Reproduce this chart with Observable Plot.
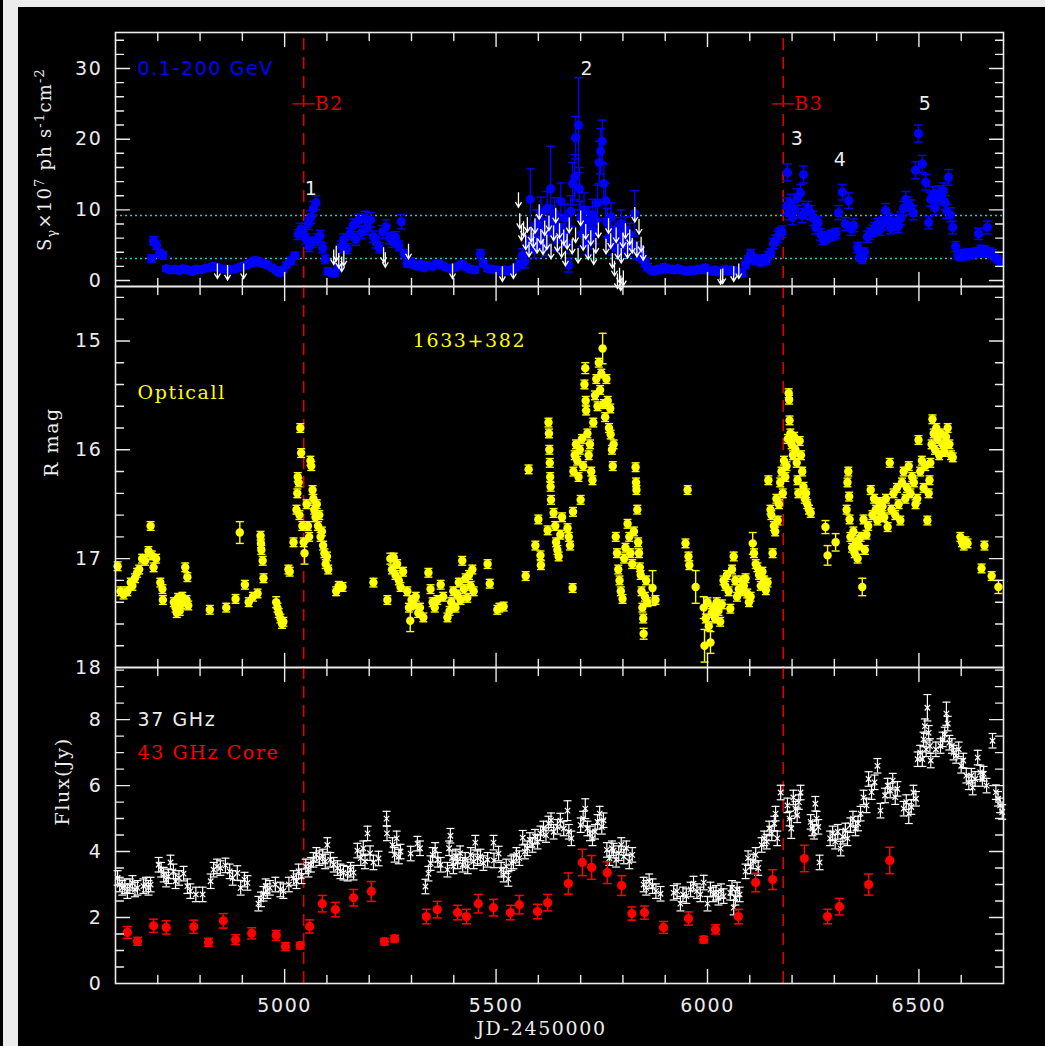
<!DOCTYPE html>
<html>
<head>
<meta charset="utf-8">
<script src="https://cdn.jsdelivr.net/npm/d3@7"></script>
<script src="https://cdn.jsdelivr.net/npm/@observablehq/plot@0.6"></script>
<style>
  html, body { margin: 0; padding: 0; background: #000; }
  #page { position: relative; width: 1045px; height: 1046px; overflow: hidden; background: #000; }
  .edge-left { position: absolute; left: 3px; top: 0; width: 15px; height: 1046px; background: #ececec; }
  .edge-top { position: absolute; left: 3px; top: 0; width: 1042px; height: 7px; background: #ececec; }
  svg.panel { position: absolute; left: 0; }
</style>
</head>
<body>
<div id="page"><div class="edge-left"></div><div class="edge-top"></div></div>
<script>
// ---- time axis (JD - 2450000) ----
const xDomain = [4600, 6700];
const xMajorTicks = [5000, 5500, 6000, 6500];

// ---- ejection epochs of superluminal knots ----
const knotJD = [5045, 6179];
const knotNames = ["B2", "B3"];

// ---- gamma-ray reference levels (dotted) ----
const gammaLevels = [3.1, 9.2];

// ---- Fermi LAT 0.1-200 GeV detections: [JD, flux (1e-7 ph/s/cm2), error] ----
const gammaDetections = [
  [4685,3.1,0.5],[4690,5.6,0.6],[4697,5.0,0.6],[4705,3.9,0.5],[4712,3.6,0.5],[4720,1.7,0.4],[4730,1.5,0.4],
  [4740,1.6,0.4],[4750,1.4,0.4],[4760,1.7,0.4],[4770,1.5,0.4],[4780,1.3,0.4],[4790,1.6,0.4],[4800,1.5,0.4],
  [4810,1.7,0.4],[4820,1.8,0.4],[4830,2.0,0.4],[4840,1.9,0.4],[4850,1.7,0.4],[4860,1.6,0.4],[4870,1.5,0.4],
  [4880,1.6,0.4],[4890,1.8,0.4],[4900,2.0,0.4],[4910,2.2,0.4],[4920,2.5,0.5],[4930,2.8,0.5],[4940,2.6,0.5],
  [4950,2.4,0.5],[4960,2.2,0.4],[4970,1.8,0.4],[4980,1.4,0.4],[4988,1.1,0.4],[4996,1.5,0.4],[5005,2.2,0.4],
  [5015,2.8,0.5],[5024,3.5,0.5],[5032,6.5,0.7],[5038,7.3,0.8],[5044,6.8,0.7],[5050,5.9,0.7],[5056,8.0,0.8],
  [5062,9.0,0.9],[5068,10.2,1.0],[5074,11.0,1.0],[5058,4.8,0.7],[5066,5.4,0.7],[5078,5.8,0.8],[5084,6.3,0.8],
  [5090,4.6,0.7],[5096,3.0,0.6],[5102,1.3,0.5],[5110,1.1,0.4],[5118,1.0,0.4],[5126,1.8,0.5],[5134,4.8,0.8],
  [5140,5.8,0.8],[5148,4.5,0.7],[5155,6.6,0.8],[5162,7.8,0.9],[5168,5.8,0.8],[5175,8.5,0.9],[5182,6.8,0.8],
  [5190,8.8,1.0],[5196,7.4,0.9],[5203,8.6,1.0],[5210,6.2,0.8],[5216,5.4,0.8],[5224,4.6,0.7],[5232,6.9,0.9],
  [5240,7.6,1.0],[5248,6.0,0.8],[5255,5.5,0.8],[5262,6.1,0.8],[5270,4.9,0.7],[5276,8.3,1.0],[5283,3.8,0.6],
  [5290,2.4,0.5],[5298,2.7,0.5],[5306,2.2,0.4],[5314,2.0,0.4],[5322,2.3,0.4],[5330,1.8,0.4],[5340,2.1,0.4],
  [5350,2.0,0.4],[5360,2.4,0.4],[5370,2.2,0.4],[5380,1.9,0.4],[5390,1.7,0.4],[5400,1.8,0.4],[5410,2.0,0.4],
  [5420,2.3,0.4],[5430,1.9,0.4],[5440,1.6,0.4],[5450,1.5,0.4],[5463,3.8,0.6],[5470,2.4,0.4],[5480,1.7,0.4],
  [5490,1.6,0.4],[5500,1.5,0.4],[5510,1.4,0.4],[5520,1.5,0.4],[5530,1.3,0.4],[5540,1.6,0.4],[5548,1.9,0.5],
  [5556,2.3,0.6],[5562,3.6,0.9],[5568,2.6,0.8],[5574,5.0,1.2],[5581,11.5,4.3],[5586,6.0,1.5],[5591,4.4,1.2],
  [5596,8.0,2.0],[5601,5.6,1.4],[5606,9.6,2.2],[5611,7.0,1.8],[5616,4.8,1.3],[5621,10.2,2.4],[5625,6.8,1.6],
  [5629,13.0,6.0],[5633,8.6,2.0],[5638,9.5,2.2],[5643,5.8,1.5],[5648,7.6,1.8],[5653,11.2,2.6],[5658,6.4,1.6],
  [5663,8.8,2.0],[5668,5.2,1.4],[5672,2.2,1.0],[5677,9.8,2.2],[5681,13.7,3.0],[5688,20.2,3.0],[5686,14.6,3.2],
  [5695,22.0,6.7],[5697,13.0,3.0],[5700,9.0,2.2],[5704,6.6,1.8],[5708,10.0,2.4],[5712,7.6,1.8],[5716,5.2,1.5],
  [5720,8.4,2.0],[5724,6.0,1.6],[5728,9.3,2.2],[5732,7.0,1.8],[5736,8.5,2.0],[5740,11.0,2.5],[5744,16.7,3.0],
  [5747,18.3,3.2],[5751,19.7,3.0],[5755,13.7,2.8],[5759,11.3,2.5],[5763,8.2,2.0],[5767,6.0,1.6],[5772,9.0,2.0],
  [5776,5.0,1.4],[5781,7.1,1.8],[5786,4.6,1.3],[5791,6.4,1.6],[5796,8.0,2.0],[5801,5.5,1.5],[5806,7.2,1.8],
  [5811,4.8,1.4],[5816,6.5,1.6],[5822,5.2,1.4],[5828,9.5,3.2],[5834,4.3,1.2],[5840,3.8,1.0],[5846,3.3,0.8],
  [5852,2.6,0.6],[5858,1.9,0.5],[5866,1.5,0.4],[5874,1.3,0.4],[5882,1.6,0.4],[5890,1.5,0.4],[5898,1.9,0.4],
  [5906,1.7,0.4],[5914,1.6,0.4],[5922,1.5,0.4],[5930,1.7,0.4],[5938,1.5,0.4],[5946,1.4,0.4],[5954,1.3,0.4],
  [5962,1.5,0.4],[5970,1.4,0.4],[5978,1.6,0.4],[5986,1.5,0.4],[5994,1.8,0.4],[6002,1.4,0.4],[6010,1.3,0.4],
  [6018,1.5,0.4],[6026,1.2,0.4],[6034,1.4,0.4],[6042,1.6,0.4],[6050,1.3,0.4],[6058,1.5,0.4],[6066,1.4,0.4],
  [6074,1.2,0.4],[6082,1.0,0.4],[6090,2.2,0.5],[6096,3.0,0.5],[6102,3.8,0.6],[6108,3.2,0.5],[6114,2.8,0.5],
  [6120,3.0,0.5],[6126,2.6,0.5],[6132,3.1,0.5],[6138,2.8,0.5],[6144,3.5,0.6],[6150,3.9,0.6],[6156,5.2,0.7],
  [6161,5.7,0.7],[6166,6.2,0.8],[6171,6.6,0.8],[6176,6.9,0.8],[6187,10.5,1.2],[6189,15.3,1.2],[6192,9.6,1.0],
  [6196,11.0,1.2],[6201,8.9,1.0],[6206,10.0,1.1],[6213,11.8,1.2],[6220,12.4,1.2],[6227,15.0,1.2],[6224,9.2,1.0],
  [6232,9.8,1.0],[6238,10.2,1.0],[6244,9.6,1.0],[6250,8.8,1.0],[6256,7.5,0.9],[6262,8.2,0.9],[6268,6.5,0.8],
  [6274,5.8,0.7],[6280,6.0,0.7],[6286,6.2,0.7],[6292,6.4,0.7],[6298,6.5,0.7],[6304,6.7,0.7],[6310,9.6,1.0],
  [6319,12.5,1.1],[6326,8.0,0.9],[6334,11.3,1.1],[6340,7.3,0.9],[6346,7.8,0.9],[6355,4.7,0.7],[6360,3.3,0.6],
  [6366,3.0,0.6],[6371,4.0,0.6],[6378,6.2,0.8],[6384,6.6,0.8],[6390,7.0,0.8],[6396,7.4,0.8],[6402,7.9,0.9],
  [6408,7.2,0.8],[6414,8.1,0.9],[6421,9.9,1.0],[6427,8.6,0.9],[6433,7.4,0.8],[6439,8.4,0.9],[6445,8.0,0.9],
  [6451,7.6,0.8],[6457,8.8,0.9],[6464,10.2,1.0],[6469,11.5,1.1],[6475,10.8,1.0],[6481,10.4,1.0],[6487,9.6,1.0],
  [6492,15.6,1.2],[6499,20.8,1.2],[6508,16.5,1.2],[6516,13.9,1.1],[6523,8.2,0.9],[6528,11.5,1.0],[6533,12.2,1.1],
  [6538,10.3,1.0],[6543,11.8,1.1],[6548,12.3,1.1],[6553,12.0,1.1],[6558,12.7,1.1],[6562,11.0,1.0],[6570,14.6,1.1],
  [6566,9.8,1.0],[6575,9.3,1.0],[6580,7.5,0.9],[6587,4.8,0.7],[6592,3.6,0.6],[6598,3.4,0.6],[6604,3.8,0.6],
  [6610,3.5,0.6],[6616,3.9,0.6],[6622,3.6,0.6],[6628,3.8,0.6],[6634,4.0,0.6],[6641,6.6,0.8],[6646,4.4,0.6],
  [6652,3.9,0.6],[6657,4.3,0.6],[6662,7.5,0.9],[6668,4.0,0.6],[6674,3.8,0.6],[6680,3.4,0.6],[6686,3.0,0.5],
  [6692,2.5,0.5]
];

// ---- gamma-ray upper limits: [JD, flux limit] ----
const gammaUpperLimits = [
  [4841,2.4],[4865,2.2],[4903,2.4],[5116,4.4],[5122,4.9],[5128,3.9],[5135,3.4],[5140,4.2],[5234,4.7],
  [5238,4.0],[5293,5.2],[5397,2.4],[5515,2.0],[5541,2.4],
  [5553,12.5],[5556,9.5],[5560,7.8],[5565,8.4],[5570,6.5],[5574,9.0],[5578,5.5],[5583,7.6],[5588,6.8],
  [5592,8.8],[5597,6.0],[5602,10.8],[5606,7.3],[5611,5.8],[5615,8.5],[5620,6.5],[5625,9.2],[5630,5.2],
  [5636,7.8],[5641,10.3],[5645,6.2],[5650,8.1],[5655,5.4],[5660,7.2],[5664,4.2],[5668,6.6],[5673,8.9],
  [5680,5.9],[5688,7.5],[5694,4.6],[5700,9.9],[5706,6.4],[5712,8.0],[5718,5.1],[5724,7.1],[5731,4.4],
  [5736,6.0],[5742,8.2],[5760,5.9],[5766,8.8],[5771,6.7],[5775,3.9],[5780,2.8],[5784,7.5],[5788,5.2],
  [5792,1.8],[5796,4.6],[5800,6.8],[5806,8.1],[5811,5.3],[5816,7.2],[5822,6.0],[5828,10.4],[5833,5.5],
  [5838,8.7],[5843,6.2],[5848,5.0],[5787,1.0],[5795,0.7],[5801,1.4],
  [6031,1.6],[6036,1.7],[6062,2.0],[6074,2.4]
];

// ---- flare numbering: [label, JD, flux] ----
const flareLabels = [["1",5064,12.9],["2",5716,30.0],["3",6213,20.1],["4",6315,17.0],["5",6516,25.0]];

// ---- optical R-band photometry: [JD, R mag, error] ----
const opticalR = [
  [4605,17.07],[4612,17.30],[4619,17.33],[4628,17.30],[4636,17.22],[4640,17.25],[4646,17.18],[4651,17.13],
  [4656,17.10],[4663,17.00],[4670,17.02],[4678,16.93],[4683,16.70],[4686,16.97],[4690,17.08],[4696,17.00],
  [4706,17.22],[4711,17.28],[4712,17.38],[4738,17.40],[4742,17.45],[4745,17.50],[4748,17.36],[4752,17.48],
  [4755,17.42],[4758,17.35],[4765,17.08],[4770,17.17],[4768,17.38],[4772,17.43],[4823,17.47],[4862,17.45],
  [4884,17.37],[4894,16.76,0.1],[4906,17.24],[4915,17.40],[4925,17.35],[4936,17.32],[4943,16.79],[4944,16.86],
  [4945,16.92],[4948,17.02],[4950,17.18],[4980,17.40,0.05],[4983,17.45],[4986,17.50],[4990,17.55],[4994,17.60],
  [4997,17.58],[5009,17.10],[5012,17.12],[5021,16.85],[5028,16.55],[5030,16.40],[5031,16.25],[5033,16.30],
  [5035,16.60],[5037,15.80],[5039,16.03],[5042,16.70],[5045,16.85],[5047,16.95,0.1],[5052,16.50],[5055,16.70],
  [5058,16.80],[5061,16.10],[5063,16.15],[5066,16.37],[5068,16.45],[5070,16.55],[5073,16.62],[5076,16.50],
  [5079,16.70],[5082,16.60],[5085,16.80],[5088,16.75],[5091,16.88],[5094,16.95],[5097,17.05],[5100,16.98],
  [5103,17.10],[5122,17.30],[5128,17.25],[5137,17.26],[5210,17.22],[5243,17.38],[5250,17.00,0.05],[5254,17.10],
  [5258,16.99],[5262,17.15],[5266,17.05],[5270,17.20],[5274,17.26],[5280,17.12],[5290,17.30],[5294,17.45],
  [5297,17.57,0.1],[5300,17.38],[5305,17.42],[5310,17.35],[5316,17.50],[5320,17.45],[5328,17.54],[5340,17.13],
  [5345,17.28],[5350,17.40],[5355,17.45],[5361,17.38],[5369,17.24],[5375,17.35],[5385,17.54],[5390,17.48],
  [5394,17.40],[5399,17.30],[5404,17.45],[5408,17.33],[5412,17.22],[5416,17.38],[5420,17.02],[5424,17.28],
  [5428,17.18],[5432,17.36],[5436,17.15],[5440,17.25],[5444,17.10],[5447,17.30],[5480,17.05],[5485,17.23],
  [5503,17.47],[5508,17.45],[5518,17.44],[5570,17.16],[5577,16.18],[5593,16.88],[5600,16.64],[5605,16.97],
  [5606,17.06],[5622,16.74],[5624,15.75],[5625,15.85],[5626,16.00],[5627,16.12],[5628,16.25],[5629,16.34],
  [5630,16.46],[5636,16.58],[5640,16.70],[5642,16.85],[5645,16.92],[5648,16.98],[5652,16.78],[5656,16.62],
  [5669,16.72],[5672,16.80],[5675,16.88],[5681,17.27],[5682,16.57],[5683,16.20],[5686,16.05],[5689,15.95],
  [5692,16.10],[5695,16.25],[5698,16.00],[5700,16.46],[5703,15.90],[5706,16.15],[5709,15.40],[5711,15.25,0.05],
  [5712,15.55],[5713,15.64],[5716,15.85],[5719,16.05],[5722,15.95],[5725,16.20],[5728,16.28],[5730,15.75],
  [5734,15.50],[5737,15.35],[5740,15.60],[5743,15.20],[5746,15.45],[5749,15.30],[5752,15.07,0.14],[5755,15.58],
  [5758,15.70],[5761,15.35],[5764,15.55],[5767,15.80],[5770,15.62],[5771,15.86],[5774,16.00],[5776,16.15],
  [5778,15.95],[5783,16.80],[5786,16.95],[5789,17.10],[5792,17.20],[5795,17.30],[5799,17.37],[5803,17.00],
  [5806,16.90],[5811,16.68],[5815,16.80],[5818,16.95],[5822,17.05],[5826,16.75],[5830,16.16],[5831,16.30],
  [5832,16.37],[5834,16.55],[5836,16.85],[5838,16.95],[5840,17.08],[5842,17.15],[5844,17.30],[5846,17.45],
  [5848,17.55],[5849,17.69,0.05],[5852,17.35],[5855,17.20],[5858,17.40],[5870,17.27,0.16],[5877,17.38],
  [5948,16.86],[5953,16.37],[5955,16.98],[5957,17.06],[5972,17.26,0.15],[5991,17.45,0.1],[5993,17.80,0.15],
  [5996,17.55],[6000,17.40],[6003,17.62],[6007,17.77,0.1],[6010,17.50],[6014,17.45],[6018,17.55],[6022,17.40],
  [6026,17.48],[6030,17.58],[6034,17.42],[6038,17.20],[6042,17.25],[6046,17.15],[6050,17.30],[6054,17.46],
  [6058,17.10],[6062,16.98],[6066,17.20],[6070,17.35],[6074,17.28],[6078,17.30],[6082,17.20],[6086,17.25],
  [6090,17.18],[6094,17.32],[6098,17.40],[6102,17.35],[6107,16.86,0.1],[6110,16.95],[6114,17.05],[6118,17.08],
  [6122,17.15],[6126,17.25],[6130,17.12],[6134,17.20],[6138,17.29],[6142,17.22],[6144,16.28],[6149,16.55],
  [6151,16.60],[6154,16.95],[6157,16.70],[6160,16.75],[6163,16.45],[6166,16.65],[6169,16.50],[6172,16.30],
  [6175,16.20],[6178,16.40],[6181,16.10],[6184,16.25],[6187,16.15],[6190,15.90],[6192,15.48],[6193,15.54],
  [6194,15.73],[6196,15.85],[6199,15.95],[6202,16.05],[6205,15.88],[6208,16.00],[6211,16.12],[6213,16.28],
  [6215,16.40],[6218,15.92],[6221,16.05],[6224,16.20],[6227,16.34],[6230,16.45],[6233,16.40],[6236,16.50],
  [6240,16.55],[6244,16.58],[6279,16.71,0.06],[6284,16.97,0.09],[6303,16.85,0.08],[6329,16.55],[6331,16.30],
  [6333,16.20],[6335,16.43],[6336,16.64],[6338,16.80],[6342,16.90],[6345,16.75],[6348,16.95],[6352,16.85],
  [6355,17.00],[6358,16.88],[6362,16.80],[6366,17.26,0.08],[6369,16.64],[6372,16.92],[6376,16.78],[6380,16.70],
  [6386,16.37],[6390,16.60],[6394,16.45],[6398,16.55],[6402,16.65],[6406,16.48],[6410,16.58],[6414,16.52],
  [6418,16.62],[6422,16.45],[6426,16.71],[6431,16.12],[6435,16.55],[6440,16.40],[6444,16.60],[6448,16.35],
  [6452,16.50],[6456,16.65],[6460,16.30],[6464,16.20],[6468,16.45],[6472,16.35],[6476,16.15],[6480,16.40],
  [6484,16.25],[6488,16.30],[6492,16.50],[6496,16.45],[6499,15.91],[6503,16.20],[6507,16.10],[6511,16.35],
  [6515,16.15],[6520,16.65],[6523,16.40],[6525,16.28],[6527,16.12],[6530,15.95],[6532,15.72],[6535,15.85],
  [6538,16.00],[6541,15.80],[6544,15.90],[6548,16.05],[6552,15.85],[6556,15.95],[6560,16.02],[6564,15.88],
  [6568,15.80],[6572,15.95],[6576,16.05],[6580,16.07],[6598,16.80],[6602,16.85],[6606,16.88],[6610,16.84],
  [6615,16.86],[6648,17.09],[6655,16.88],[6672,17.16],[6688,17.26,0.06]
];

// ---- 37 GHz single-dish flux density: [JD, Jy, error] ----
const flux37 = [
  [4605,3.20],[4610,3.00],[4616,2.90],[4622,2.95],[4628,2.80],[4634,2.95],[4640,3.05],[4646,2.85],[4652,2.90],
  [4666,2.95],[4672,3.00],[4678,2.90],[4683,3.00],[4702,3.60],[4708,3.45],[4714,3.30],[4720,3.15],[4725,3.25],
  [4730,3.67],[4737,3.40],[4742,3.10],[4750,3.20],[4761,3.33],[4770,2.95],[4777,2.80],[4790,2.70],[4806,2.70],
  [4825,3.10],[4832,3.45],[4840,3.55],[4848,3.50],[4860,3.58],[4870,3.40],[4877,3.20],[4888,3.35],[4896,2.90],
  [4905,3.15],[4912,3.05],[4938,2.42],[4944,2.55],[4950,2.72],[4955,2.95],[4959,2.80],[4965,2.90],[4978,3.00],
  [4990,2.85],[4997,2.80],[5010,3.00],[5021,3.20],[5028,3.10],[5033,3.40],[5040,3.25],[5050,3.55],[5056,3.45],
  [5062,3.60],[5068,3.75],[5075,3.90],[5082,3.80],[5090,3.85],[5096,3.70],[5101,4.20],[5108,3.75],[5116,3.60],
  [5125,3.50],[5132,3.40],[5139,3.36],[5149,3.33],[5156,3.45],[5163,3.36],[5172,4.03],[5180,3.80],[5186,4.10],
  [5190,3.70],[5196,4.55],[5202,3.95],[5210,3.67],[5222,3.79],[5241,5.00],[5242,4.55],[5255,4.20],[5260,3.90],
  [5265,4.40],[5270,3.85],[5274,4.00],[5298,3.94],[5314,4.24],[5320,4.10],[5333,2.94],[5340,3.33],[5345,3.65],
  [5350,3.90],[5356,4.05],[5362,3.75],[5369,3.60],[5385,3.45],[5389,4.10],[5392,4.48],[5396,3.80],[5399,3.55],
  [5405,3.85],[5409,3.70],[5415,3.95],[5421,3.60],[5427,3.75],[5433,3.55],[5440,3.90],[5447,3.70],[5451,4.27],
  [5456,3.80],[5463,3.85],[5470,3.65],[5480,3.75],[5494,4.27],[5495,3.73],[5506,3.94],[5512,3.45],[5518,3.30],
  [5524,3.55],[5529,3.17],[5536,3.65],[5541,3.70],[5548,3.90],[5555,3.80],[5563,4.42],[5568,4.00],[5574,4.10],
  [5580,4.35],[5586,4.20],[5592,4.45],[5598,4.30],[5605,4.55],[5612,4.70],[5618,4.50],[5624,4.85],[5630,4.95],
  [5636,4.60],[5645,4.75],[5652,4.94],[5660,4.70],[5669,5.24,0.3],[5672,4.60],[5678,4.40],[5700,4.80],[5706,5.00],
  [5711,5.30,0.3],[5716,4.70],[5722,4.55],[5728,4.40],[5734,4.60],[5740,4.90],[5745,5.15],[5750,4.75],[5754,4.95],
  [5762,4.05],[5768,3.80],[5774,4.10],[5778,4.03],[5784,3.75],[5790,3.95],[5796,4.20],[5802,3.85],[5808,4.10],
  [5815,3.70],[5822,3.90],[5849,3.00],[5855,2.90],[5862,3.10],[5870,2.95],[5878,2.80],[5889,2.72],[5920,2.75],
  [5928,2.80],[5936,2.42],[5942,2.70],[5950,2.65],[5960,2.85],[5967,3.03],[5975,2.80],[5983,2.70],[5991,3.06],
  [6000,2.42],[6007,2.85],[6014,2.70],[6020,2.75],[6026,2.60],[6032,2.80],[6038,2.65],[6054,2.75],[6058,2.90],
  [6062,2.30],[6066,2.60],[6070,2.85],[6076,2.70],[6090,3.40],[6096,3.80],[6102,3.55],[6108,3.70],[6114,3.90],
  [6120,3.50],[6128,4.20],[6134,4.40],[6140,4.30],[6146,4.70],[6152,4.55],[6158,4.85],[6161,5.15],[6165,4.40],
  [6173,5.79],[6189,5.40],[6194,5.00],[6198,4.70,0.3],[6203,5.64],[6208,5.30],[6212,5.10],[6216,5.50],[6220,5.79],
  [6244,4.90],[6248,4.70],[6252,4.60],[6255,5.45],[6258,5.00],[6262,4.75],[6265,3.67],[6290,4.40],[6296,4.55],
  [6302,4.30],[6308,4.60],[6315,4.09],[6320,4.45],[6326,4.64],[6331,4.40],[6338,4.80],[6344,5.00],[6350,4.70],
  [6356,4.85],[6362,5.15],[6369,5.64],[6376,5.40],[6381,6.20],[6388,5.80],[6395,6.10],[6402,6.60],[6409,5.24],
  [6420,5.70],[6426,6.00],[6432,5.85],[6438,6.15],[6444,5.65],[6449,5.90],[6464,5.30],[6470,5.50],[6476,5.15,0.3],
  [6482,5.35],[6487,5.79],[6493,5.60],[6497,6.80],[6503,7.00],[6508,6.80],[6511,7.40],[6514,7.80],[6517,7.10],
  [6520,8.36,0.4],[6523,7.60],[6526,7.20],[6528,6.76],[6540,7.10],[6551,7.20],[6556,7.40],[6561,7.55],[6565,8.18,0.35],
  [6568,7.88],[6572,7.30],[6578,7.20],[6582,7.00],[6588,6.90],[6594,7.10],[6600,6.60],[6605,6.76],[6612,6.30],
  [6618,6.10],[6624,6.30],[6627,5.94],[6633,6.20],[6639,6.85],[6645,6.40],[6650,6.20],[6653,6.36],[6660,6.00],
  [6674,7.36],[6682,5.80],[6687,5.60],[6692,5.40],[6697,5.20]
];

// ---- 43 GHz VLBA core flux density: [JD, Jy, error] ----
const core43 = [
  [4628,1.55,0.18],[4652,1.28,0.12],[4690,1.75,0.2],[4720,1.70,0.2],[4785,1.72,0.2],[4820,1.25,0.12],
  [4855,1.90,0.22],[4884,1.33,0.15],[4922,1.52,0.17],[4980,1.46,0.15],[5002,1.12,0.12],[5037,1.15,0.1],
  [5059,1.73,0.2],[5089,2.42,0.25],[5120,2.24,0.22],[5163,2.60,0.25],[5205,2.79,0.3],[5236,1.27,0.1],
  [5260,1.36,0.1],[5335,2.03,0.22],[5361,2.24,0.25],[5409,2.15,0.22],[5430,2.03,0.22],[5458,2.42,0.28],
  [5494,2.30,0.25],[5534,2.15,0.22],[5555,2.39,0.28],[5598,2.18,0.22],[5622,2.45,0.25],[5671,3.03,0.32],
  [5704,3.67,0.4],[5726,3.52,0.36],[5763,3.36,0.33],[5797,2.97,0.3],[5821,2.12,0.2],[5851,2.15,0.2],
  [5896,1.70,0.18],[5955,1.97,0.2],[5991,1.33,0.1],[6019,1.64,0.14],[6073,2.03,0.22],[6114,3.06,0.28],
  [6154,3.15,0.3],[6229,3.79,0.4],[6284,2.03,0.22],[6312,2.33,0.25],[6381,3.00,0.32],[6431,3.73,0.4]
];

// ---- styling ----
const FG = "#ececec";
const BLUE = "#0000ff", YELLOW = "#ffff00", RED = "#ff0000", CYAN = "#1fc8c8", KNOT_RED = "#e00000";
const SANS = "DejaVu Sans", SERIF = "DejaVu Serif";
const gammaTitle = "Sγ×107 ph s-1cm-2";

// inward frame tick drawn as a plain segment
const tickShape = {draw(ctx, l) { ctx.moveTo(0, 0); ctx.lineTo(0, -l); }};
// horizontal cap (error bar ends, knot marker)
const capSymbol = {draw(ctx, size) { const w = Math.sqrt(size / Math.PI); ctx.moveTo(-w, 0); ctx.lineTo(w, 0); }};
// downward arrow for upper limits, hanging below the limit value
const limitSymbol = {draw(ctx, size) {
  const r = Math.sqrt(size / Math.PI);
  ctx.moveTo(0, 0); ctx.lineTo(0, 3 * r);
  ctx.moveTo(-0.6 * r, 2 * r); ctx.lineTo(0, 3 * r); ctx.lineTo(0.6 * r, 2 * r);
}};

const X = d => d[0], Y = d => d[1];

function frameTicks(yBottom, yTop, yMajor, yMinor) {
  const xMinor = d3.range(4700, 6700, 100).filter(v => v % 500 !== 0);
  const common = {shape: tickShape, anchor: "start", stroke: FG, strokeWidth: 1.4, fill: "none"};
  const marks = [];
  for (const [vals, len] of [[xMajorTicks, 14], [xMinor, 8]]) {
    marks.push(Plot.vector(vals, {...common, x: d => d, y: () => yBottom, length: len, rotate: 0}));
    marks.push(Plot.vector(vals, {...common, x: d => d, y: () => yTop, length: len, rotate: 180}));
  }
  for (const [vals, len] of [[yMajor, 14], [yMinor, 8]]) {
    marks.push(Plot.vector(vals, {...common, x: () => xDomain[0], y: d => d, length: len, rotate: 90}));
    marks.push(Plot.vector(vals, {...common, x: () => xDomain[1], y: d => d, length: len, rotate: -90}));
  }
  return marks;
}

function errorBars(data, color, defaultErr, capR, width) {
  const e = d => d[2] ?? defaultErr;
  return [
    Plot.ruleX(data, {x: X, y1: d => d[1] - e(d), y2: d => d[1] + e(d), stroke: color, strokeWidth: width}),
    Plot.dot(data, {x: X, y: d => d[1] - e(d), r: capR, symbol: capSymbol, stroke: color, strokeWidth: width, fill: "none"}),
    Plot.dot(data, {x: X, y: d => d[1] + e(d), r: capR, symbol: capSymbol, stroke: color, strokeWidth: width, fill: "none"})
  ];
}

function knotLines() {
  return Plot.ruleX(knotJD, {stroke: KNOT_RED, strokeWidth: 1.6, strokeDasharray: "12,7"});
}

function yLabels(ticks) {
  return Plot.axisY({ticks, tickSize: 0, tickPadding: 13, tickFormat: d => `${d}`, label: null, fill: FG});
}

function makePanel({top, height, marginTop, marginBottom, y, showX, marks}) {
  const svg = Plot.plot({
    width: 1045, height, marginLeft: 115, marginRight: 42, marginTop, marginBottom,
    x: {domain: xDomain, axis: showX ? undefined : null},
    y,
    style: `background: transparent; color: ${FG}; font-family: '${SANS}'; font-size: 19px; letter-spacing: 1.6px; overflow: visible;`,
    marks
  });
  svg.classList.add("panel");
  svg.style.position = "absolute";
  svg.style.left = "0px";
  svg.style.top = top + "px";
  document.getElementById("page").appendChild(svg);
  return svg;
}

// ---- panel 1: gamma rays ----
const gammaMinor = d3.range(2, 35, 2).filter(v => v % 10 !== 0);
const svgGamma = makePanel({
  top: 0, height: 287, marginTop: 32, marginBottom: 1,
  y: {domain: [-0.85, 35.1]},
  marks: [
    Plot.ruleY(gammaLevels, {stroke: CYAN, strokeWidth: 1.5, strokeDasharray: "2,3"}),
    Plot.ruleX(knotJD, {stroke: KNOT_RED, strokeWidth: 1.6, strokeDasharray: "12,7", insetTop: 6}),
    Plot.dot(knotJD, {x: d => d, y: () => 25, r: 11, symbol: capSymbol, stroke: KNOT_RED, strokeWidth: 1.3}),
    Plot.text(knotJD, {x: d => d, y: () => 25, text: (d, i) => knotNames[i], dx: 11, textAnchor: "start", fill: KNOT_RED, fontFamily: SERIF}),
    ...errorBars(gammaDetections, BLUE, 0.5, 4.5, 1.4),
    Plot.dot(gammaDetections, {x: X, y: Y, r: 4.6, fill: BLUE}),
    Plot.dot(gammaUpperLimits, {x: X, y: Y, r: 5, symbol: limitSymbol, stroke: "#ffffff", strokeWidth: 1.3, fill: "none"}),
    Plot.frame({stroke: FG, strokeWidth: 1.6}),
    ...frameTicks(-0.85, 35.1, [0, 10, 20, 30], gammaMinor),
    Plot.text(["0.1-200 GeV"], {x: () => 4652, y: () => 30, textAnchor: "start", fill: BLUE}),
    Plot.text(flareLabels, {x: d => d[1], y: d => d[2], text: d => d[0], fill: FG}),
    yLabels([0, 10, 20, 30]),
    Plot.text([gammaTitle], {frameAnchor: "left", rotate: -90, dx: -70, fontFamily: SERIF, fill: FG})
  ]
});

// sub/superscripts in the flux-unit title, re-centred on the panel after layout
(function () {
  const node = Array.from(svgGamma.querySelectorAll("text")).find(n => n.textContent === gammaTitle);
  if (!node) return;
  node.textContent = "";
  node.setAttribute("font-size", 18);
  node.style.letterSpacing = "1.2px";
  const parts = [["S", 0, null], ["γ", 5, 13], ["×10", -5, null], ["7", -7, 13], [" ph s", 7, null],
                 ["-1", -7, 13], ["cm", 7, null], ["-2", -7, 13]];
  for (const [str, dy, size] of parts) {
    const ts = document.createElementNS("http://www.w3.org/2000/svg", "tspan");
    ts.textContent = str;
    if (dy) ts.setAttribute("dy", dy);
    if (size) ts.setAttribute("font-size", size);
    node.appendChild(ts);
  }
  node.setAttribute("text-anchor", "start");
  const len = node.getComputedTextLength();
  node.setAttribute("x", -len / 2);
})();

// ---- panel 2: optical R band ----
const magMinor = d3.range(73, 90).map(v => v / 5).filter(v => !Number.isInteger(v));
makePanel({
  top: 285, height: 383, marginTop: 1, marginBottom: 1,
  y: {domain: [14.5, 18], reverse: true},
  marks: [
    knotLines(),
    ...errorBars(opticalR, YELLOW, 0.04, 4, 1.4),
    Plot.dot(opticalR, {x: X, y: Y, r: 4.2, fill: YELLOW}),
    Plot.frame({stroke: FG, strokeWidth: 1.6}),
    ...frameTicks(18, 14.5, [15, 16, 17], magMinor),
    Plot.text(["1633+382"], {x: () => 5303, y: () => 15.0, textAnchor: "start", fill: YELLOW, fontFamily: SERIF}),
    Plot.text(["Opticall"], {x: () => 4652, y: () => 15.48, textAnchor: "start", fill: YELLOW, fontFamily: SERIF}),
    yLabels([15, 16, 17, 18]),
    Plot.text(["R mag"], {frameAnchor: "left", rotate: -90, dx: -64, fontFamily: SERIF, fill: FG})
  ]
});

// ---- panel 3: radio ----
const fluxMinor = d3.range(1, 20).map(v => v / 2).filter(v => v % 2 !== 0);
makePanel({
  top: 666, height: 380, marginTop: 1, marginBottom: 63, showX: true,
  y: {domain: [0, 9.58]},
  marks: [
    knotLines(),
    ...errorBars(flux37, "#ffffff", 0.22, 4, 1.2),
    Plot.dot(flux37, {x: X, y: Y, r: 2.6, symbol: "times", stroke: "#ffffff", strokeWidth: 1.2}),
    ...errorBars(core43, RED, 0.2, 4.5, 1.5),
    Plot.dot(core43, {x: X, y: Y, r: 4.6, fill: RED}),
    Plot.frame({stroke: FG, strokeWidth: 1.6}),
    ...frameTicks(0, 9.58, [2, 4, 6, 8], fluxMinor),
    Plot.text(["37 GHz"], {x: () => 4652, y: () => 8.0, textAnchor: "start", fill: FG}),
    Plot.text(["43 GHz Core"], {x: () => 4652, y: () => 7.0, textAnchor: "start", fill: RED, fontFamily: SERIF}),
    yLabels([0, 2, 4, 6, 8]),
    Plot.axisX({ticks: xMajorTicks, tickSize: 0, tickPadding: 15, tickFormat: d => `${d}`, label: null, fill: FG}),
    Plot.text(["JD-2450000"], {frameAnchor: "bottom", dx: -18, dy: 51, fontFamily: SERIF, fill: FG}),
    Plot.text(["Flux(Jy)"], {frameAnchor: "left", rotate: -90, dx: -53, fontFamily: SERIF, fill: FG})
  ]
});
</script>
</body>
</html>
